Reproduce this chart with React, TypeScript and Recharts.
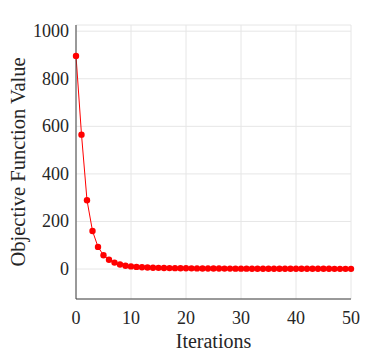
import { CartesianGrid, Line, LineChart, XAxis, YAxis } from 'recharts'

// 迭代次数 0..50
const iterations = Array.from({ length: 51 }, (_, i) => i)

// 目标函数值
const objectiveValues = [
  896, 565, 289, 160, 93, 58, 39, 27, 19, 14,
  11, 9, 7.5, 6.5, 5.6, 5, 4.5, 4, 3.6, 3.3,
  3, 2.8, 2.6, 2.4, 2.2, 2.1, 2, 1.9, 1.8, 1.7,
  1.6, 1.5, 1.45, 1.4, 1.35, 1.3, 1.25, 1.2, 1.15, 1.1,
  1.05, 1, 1, 0.95, 0.95, 0.9, 0.9, 0.85, 0.85, 0.8, 0.8,
]

const xTicks = [0, 10, 20, 30, 40, 50]
const yTicks = [0, 200, 400, 600, 800, 1000]

const data = iterations.map((it, i) => ({ it, value: objectiveValues[i] }))

const FONT = 'Liberation Serif, serif'
const AXIS = '#404040'
const TEXT = '#262626'

function XTick(props: any) {
  const { x, y, payload } = props
  return (
    <text x={x} y={y + 6} textAnchor="middle" dominantBaseline="hanging"
      style={{ fontFamily: FONT, fontSize: 18, fill: TEXT }}>
      {payload.value}
    </text>
  )
}

function YTick(props: any) {
  const { x, y, payload } = props
  return (
    <text x={x - 1} y={y} textAnchor="end" dominantBaseline="central"
      style={{ fontFamily: FONT, fontSize: 18, fill: TEXT }}>
      {payload.value}
    </text>
  )
}

export default function App() {
  return (
    <div style={{ position: 'absolute', left: 0, top: 0, background: '#fff' }}>
      <LineChart
        width={368}
        height={353}
        data={data}
        margin={{ top: 25, right: 17, bottom: 0, left: 16 }}
      >
        <CartesianGrid stroke="#e6e6e6" strokeWidth={1} />
        <XAxis
          dataKey="it"
          type="number"
          domain={[0, 50]}
          ticks={xTicks}
          height={54}
          stroke={AXIS}
          tickLine={false}
          tickMargin={0}
          tick={<XTick />}
          label={(props: any) => {
            const vb = props.viewBox
            return (
              <text
                x={vb.x + vb.width / 2}
                y={vb.y + vb.height - 5.5}
                textAnchor="middle"
                style={{ fontFamily: FONT, fontSize: 20, fill: TEXT }}
              >
                Iterations
              </text>
            )
          }}
        />
        <XAxis
          xAxisId="top"
          dataKey="it"
          type="number"
          domain={[0, 50]}
          orientation="top"
          height={0}
          ticks={xTicks}
          tick={false}
          tickLine={false}
          stroke={AXIS}
        />
        <YAxis
          type="number"
          domain={[-126, 1026]}
          ticks={yTicks}
          width={60}
          stroke={AXIS}
          tickLine={false}
          tickMargin={0}
          interval={0}
          tick={<YTick />}
          label={(props: any) => {
            const vb = props.viewBox
            const cx = 18
            const cy = vb.y + vb.height / 2
            return (
              <text
                x={cx}
                y={cy}
                transform={`rotate(-90 ${cx} ${cy})`}
                textAnchor="middle"
                dominantBaseline="central"
                style={{ fontFamily: FONT, fontSize: 20.5, fill: TEXT }}
              >
                Objective Function Value
              </text>
            )
          }}
        />
        <YAxis
          yAxisId="right"
          orientation="right"
          type="number"
          domain={[-126, 1026]}
          ticks={yTicks}
          width={0}
          tick={false}
          tickLine={false}
          stroke={AXIS}
        />
        <Line
          type="linear"
          dataKey="value"
          stroke="#ff0000"
          strokeWidth={1}
          dot={{ r: 3.2, fill: '#ff0000', stroke: '#ff0000', strokeWidth: 0 }}
          activeDot={false}
          isAnimationActive={false}
        />
      </LineChart>
    </div>
  )
}
